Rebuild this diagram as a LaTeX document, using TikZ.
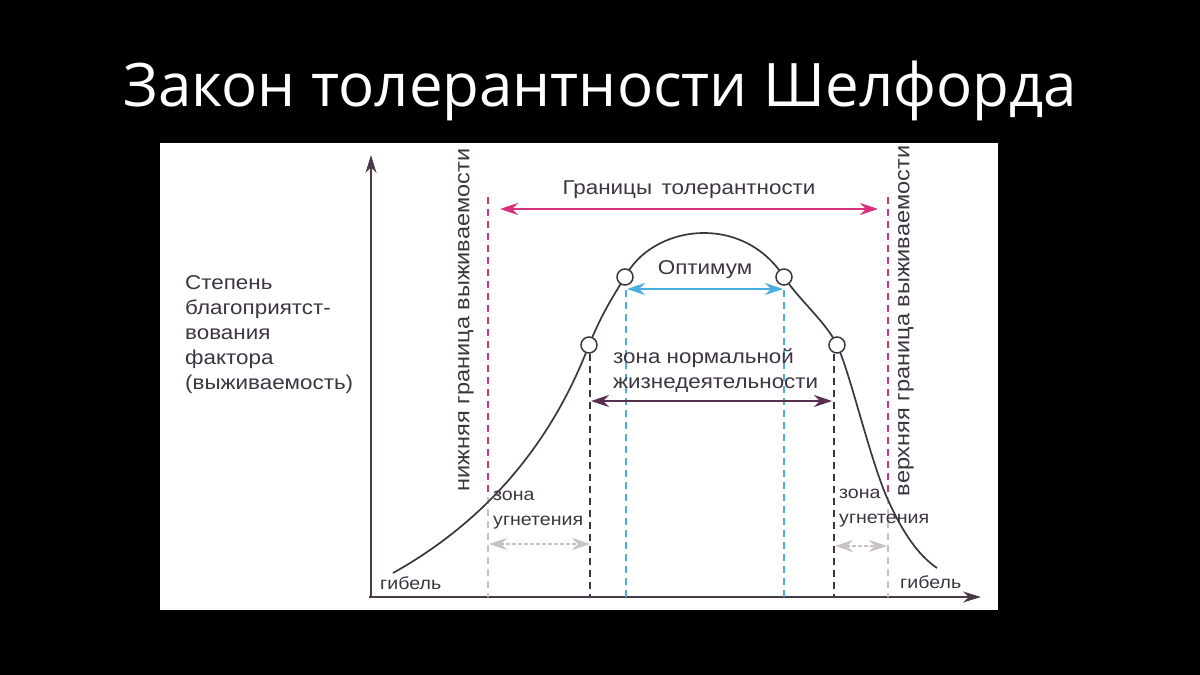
\documentclass[tikz,border=0pt]{standalone}
\usepackage{fontspec}
\setmainfont{Liberation Sans}[FakeStretch=1.12]
\newfontfamily\titlefont{Open Sans}
\usetikzlibrary{arrows.meta}
\definecolor{ink}{HTML}{3D3540}
\definecolor{axis}{HTML}{4A3A48}
\definecolor{tol}{HTML}{D8307A}
\definecolor{opt}{HTML}{4AAEE0}
\definecolor{norm}{HTML}{5A2E50}
\definecolor{pale}{HTML}{C8C2C8}
\begin{document}
\begin{tikzpicture}[x=1pt,y=-1pt,
    lbl/.style={text=ink,font=\fontsize{20}{25}\selectfont,inner sep=0pt},
    small/.style={lbl,font=\fontsize{17.5}{25}\selectfont},
    vlbl/.style={lbl,font=\fontsize{21}{25}\selectfont,rotate=90},
    dot/.style={circle,draw=ink,fill=white,line width=1.5pt,minimum size=16pt,inner sep=0pt},
    bound/.style={line width=1.6pt,dash pattern=on 7pt off 5pt},
    tip/.style={line width=2.2pt,{Stealth[length=18pt,width=12pt]}-{Stealth[length=18pt,width=12pt]}}]
        \fill[black] (0,0) rectangle (1200,675);
        \fill[white] (160,143) rectangle (998,610);
        \node[text=white,font=\titlefont\fontsize{60}{70}\selectfont] (title) at (600,91) {Закон толерантности Шелфорда};
        % axes
        \coordinate (o) at (371,597);
        \coordinate (ytop) at (371,155);
        \coordinate (xend) at (981,597);
        \draw[axis,line width=1.8pt,-{Stealth[length=18pt,width=11pt]}] (o)--(ytop);
        \draw[axis,line width=1.8pt,-{Stealth[length=18pt,width=11pt]}] (369,597)--(xend);
        % boundary lines
        \coordinate (lbt) at (488,197); \coordinate (lbm) at (488,497); \coordinate (lbb) at (488,597);
        \coordinate (rbt) at (888,197); \coordinate (rbm) at (888,497); \coordinate (rbb) at (888,597);
        \draw[tol,bound] (lbt)--(lbm);
        \draw[pale,bound] (lbm)--(lbb);
        \draw[tol,bound] (rbt)--(rbm);
        \draw[pale,bound] (rbm)--(rbb);
        % curve
        \draw[ink,line width=1.7pt] (393,573) .. controls (470,530) and (545,460) .. (589,345)
            .. controls (601,316) and (610,301) .. (625,277)
            .. controls (652,225) and (742,212) .. (784,277)
            .. controls (800,301) and (826,322) .. (837,345)
            .. controls (850,372) and (870,460) .. (888,500)
            .. controls (903,533) and (918,555) .. (937,568);
        \node[dot] (p1) at (589,345) {};
        \node[dot] (p2) at (625,277) {};
        \node[dot] (p3) at (784,277) {};
        \node[dot] (p4) at (837,345) {};
        % zone lines
        \coordinate (n1) at (590,597); \coordinate (n2) at (834,597);
        \coordinate (b1) at (626,597); \coordinate (b2) at (784,597);
        \draw[ink,bound] (p1.south)++(1,0)--(n1);
        \draw[ink,bound] (p4.south)++(-3,0)--(n2);
        \draw[opt,bound,line width=1.3pt] (626,290)--(b1);
        \draw[opt,bound,line width=1.3pt] (784,290)--(b2);
        % arrows
        \coordinate (ta) at (500,209); \coordinate (tb) at (878,209);
        \draw[tol,tip] (ta)--(tb) node[lbl,midway,above=9pt] (tlab) {Границы\, толерантности};
        \coordinate (oa) at (627,289); \coordinate (ob) at (783,289);
        \draw[opt,tip] (oa)--(ob) node[lbl,midway,above=9pt] (olab) {Оптимум};
        \coordinate (na) at (591,401); \coordinate (nb) at (832,401);
        \draw[norm,tip] (na)--(nb);
        \node[lbl,anchor=west,align=left] (nlab) at (613,371) {зона нормальной\\жизнедеятельности};
        \coordinate (da) at (489,544); \coordinate (db) at (590,544);
        \draw[pale,tip,line width=1.6pt,dash pattern=on 4pt off 2pt] (da)--(db);
        \coordinate (ea) at (835,546); \coordinate (eb) at (887,546);
        \draw[pale,tip,line width=1.6pt,dash pattern=on 4pt off 2pt] (ea)--(eb);
        % labels
        \node[small,anchor=north west,align=left] (ulab) at (493,491) {зона\\угнетения};
        \node[small,anchor=north west,align=left] (vlab) at (839,489) {зона\\угнетения};
        \node[small,anchor=west] (g1) at (380,583) {гибель};
        \node[small,anchor=west] (g2) at (900,582) {гибель};
        \node[vlbl] (low) at (466,320) {нижняя граница выживаемости};
        \node[vlbl] (up) at (906,321) {верхняя граница выживаемости};
        \node[lbl,anchor=north west,align=left] (ylab) at (185,275) {Степень\\благоприятст-\\вования\\фактора\\(выживаемость)};
\end{tikzpicture}
\end{document}
